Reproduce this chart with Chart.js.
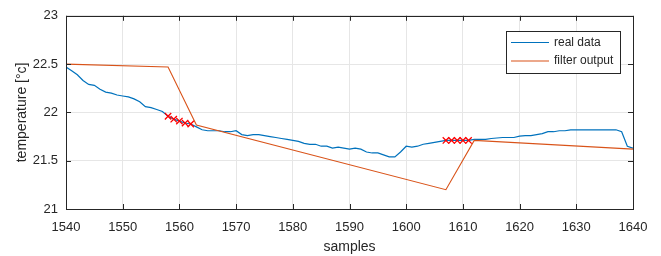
<!DOCTYPE html>
<html>
<head>
<meta charset="utf-8">
<script src="https://cdn.jsdelivr.net/npm/chart.js@4/dist/chart.umd.min.js"></script>
<style>
  html, body { margin: 0; padding: 0; background: #fff; }
</style>
</head>
<body>
<canvas id="chart" width="661" height="256"></canvas>
<script>
// samples 1540..1640, one value per sample
const sampleStart = 1540;
const realData = [
  22.47, 22.43, 22.39, 22.33, 22.29, 22.28, 22.24, 22.21, 22.20, 22.18,
  22.17, 22.16, 22.14, 22.11, 22.06, 22.05, 22.03, 22.01, 21.96, 21.93,
  21.91, 21.89, 21.88, 21.85, 21.82, 21.81, 21.81, 21.81, 21.80, 21.80,
  21.81, 21.77, 21.76, 21.77, 21.77, 21.76, 21.75, 21.74, 21.73, 21.72,
  21.71, 21.70, 21.68, 21.67, 21.67, 21.65, 21.65, 21.63, 21.64, 21.63,
  21.62, 21.63, 21.62, 21.59, 21.58, 21.58, 21.56, 21.54, 21.54, 21.59,
  21.65, 21.64, 21.65, 21.67, 21.68, 21.69, 21.70, 21.71, 21.71, 21.71,
  21.71, 21.71, 21.72, 21.72, 21.72, 21.73, 21.735, 21.74, 21.74, 21.74,
  21.755, 21.76, 21.76, 21.77, 21.78, 21.80, 21.80, 21.81, 21.81, 21.82,
  21.82, 21.82, 21.82, 21.82, 21.82, 21.82, 21.82, 21.82, 21.80, 21.65,
  21.63
];
const filterX = [1540, 1558, 1563, 1607, 1612, 1640];
const filterY = [22.5, 22.47, 21.87, 21.2, 21.71, 21.62];
const markX = [1558, 1559, 1560, 1561, 1562, 1607, 1608, 1609, 1610, 1611];
const markY = [21.96, 21.93, 21.91, 21.89, 21.88, 21.71, 21.71, 21.71, 21.71, 21.71];
const xTicks = [1540, 1550, 1560, 1570, 1580, 1590, 1600, 1610, 1620, 1630, 1640];
const yTicks = [21, 21.5, 22, 22.5, 23];
const yTickLabels = ['21', '21.5', '22', '22.5', '23'];
const legendLabels = ['real data', 'filter output'];

const axisColor = '#262626';
const blue = '#0072BD';
const orange = '#D95319';
const fontFamily = "'Liberation Sans', Arial, sans-serif";

// frame, inward ticks and the legend box, matlab style
const matlabAxes = {
  id: 'matlabAxes',
  afterDraw(chart) {
    const ctx = chart.ctx;
    const a = chart.chartArea;
    const xs = chart.scales.x, ys = chart.scales.y;
    const tl = 5;
    ctx.save();
    ctx.strokeStyle = axisColor;
    ctx.lineWidth = 1;
    ctx.beginPath();
    xTicks.forEach(v => {
      const px = Math.round(xs.getPixelForValue(v)) + 0.5;
      ctx.moveTo(px, a.bottom); ctx.lineTo(px, a.bottom - tl);
      ctx.moveTo(px, a.top); ctx.lineTo(px, a.top + tl);
    });
    yTicks.forEach(v => {
      const py = Math.round(ys.getPixelForValue(v)) + 0.5;
      ctx.moveTo(a.left, py); ctx.lineTo(a.left + tl, py);
      ctx.moveTo(a.right, py); ctx.lineTo(a.right - tl, py);
    });
    ctx.stroke();
    ctx.strokeRect(Math.round(a.left) + 0.5, Math.round(a.top) + 0.5,
                   Math.round(a.right - a.left), Math.round(a.bottom - a.top));

    // legend
    const lx = 506, ly = 31, lw = 114, lh = 42;
    ctx.fillStyle = '#fff';
    ctx.fillRect(lx, ly, lw, lh);
    ctx.strokeRect(lx + 0.5, ly + 0.5, lw, lh);
    const colors = [blue, orange];
    ctx.font = '12px ' + fontFamily;
    ctx.textBaseline = 'middle';
    legendLabels.forEach((t, i) => {
      const y = ly + 11.5 + i * 18.5;
      ctx.strokeStyle = colors[i];
      ctx.lineWidth = 1.2;
      ctx.beginPath();
      ctx.moveTo(lx + 5, y); ctx.lineTo(lx + 43, y);
      ctx.stroke();
      ctx.fillStyle = axisColor;
      ctx.fillText(t, lx + 48, y);
    });
    ctx.restore();
  }
};

new Chart(document.getElementById('chart').getContext('2d'), {
  type: 'scatter',
  data: {
    datasets: [
      {
        label: legendLabels[0],
        data: realData.map((v, i) => ({ x: sampleStart + i, y: v })),
        showLine: true,
        borderColor: blue,
        borderWidth: 1.2,
        pointRadius: 0,
        order: 2
      },
      {
        label: legendLabels[1],
        data: filterX.map((x, i) => ({ x: x, y: filterY[i] })),
        showLine: true,
        borderColor: orange,
        borderWidth: 1.1,
        pointRadius: 0,
        order: 1
      },
      {
        label: 'marks',
        data: markX.map((x, i) => ({ x: x, y: markY[i] })),
        showLine: false,
        pointStyle: 'crossRot',
        pointRadius: 4.5,
        borderColor: '#ff0000',
        borderWidth: 1.3,
        order: 0
      }
    ]
  },
  options: {
    responsive: false,
    animation: false,
    devicePixelRatio: 1,
    layout: { padding: { top: 15, right: 28, left: 0, bottom: 0 } },
    plugins: { legend: { display: false }, tooltip: { enabled: false } },
    scales: {
      x: {
        type: 'linear',
        min: 1540,
        max: 1640,
        afterBuildTicks: s => { s.ticks = xTicks.map(v => ({ value: v })); },
        afterFit: s => { s.height = 47; },
        grid: { color: '#e6e6e6', drawTicks: false },
        border: { display: false },
        ticks: {
          color: axisColor,
          font: { family: fontFamily, size: 13 },
          padding: 11,
          maxRotation: 0,
          callback: v => String(v)
        },
        title: {
          display: true,
          text: 'samples',
          color: axisColor,
          font: { family: fontFamily, size: 14, lineHeight: 1 },
          padding: { top: 0, bottom: 2 }
        }
      },
      y: {
        min: 21,
        max: 23,
        afterBuildTicks: s => { s.ticks = yTicks.map(v => ({ value: v })); },
        afterFit: s => { s.width = 66; },
        grid: { color: '#e6e6e6', drawTicks: false },
        border: { display: false },
        ticks: {
          color: axisColor,
          font: { family: fontFamily, size: 13 },
          padding: 8,
          callback: v => yTickLabels[yTicks.indexOf(v)]
        },
        title: {
          display: true,
          text: 'temperature [°c]',
          color: axisColor,
          font: { family: fontFamily, size: 14 },
          padding: { top: 14, bottom: 0 }
        }
      }
    }
  },
  plugins: [matlabAxes]
});
</script>
</body>
</html>
